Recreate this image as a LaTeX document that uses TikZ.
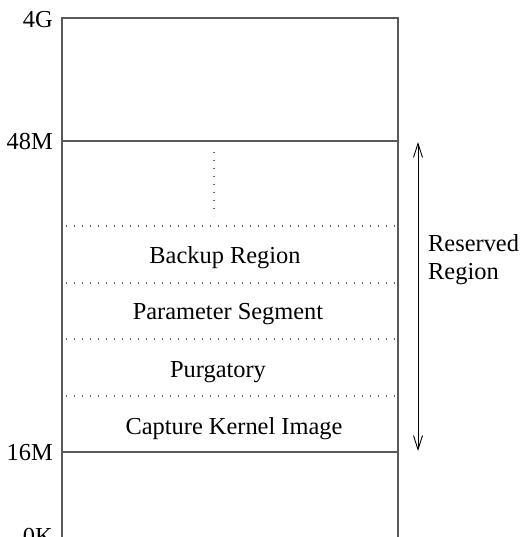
\documentclass[tikz,border=0pt]{standalone}
\usepackage{fontspec}
\setmainfont{Liberation Serif}
\usetikzlibrary{arrows.meta}
\begin{document}
\begin{tikzpicture}[x=1pt,y=-1pt,
  boxline/.style={draw=black!65,line width=1.1pt},
  dotline/.style={draw=black!60,line width=1.3pt,dash pattern=on 1.3pt off 6.7pt},
  lbl/.style={font=\fontsize{24.4}{28}\selectfont,inner sep=0pt},
  addr/.style={lbl,anchor=east},
  region/.style={lbl,anchor=center},
  span/.style={draw=black,line width=0.9pt,{Straight Barb[length=14pt,width=9pt]}-{Straight Barb[length=14pt,width=9pt]}}]
\useasboundingbox (0,0) rectangle (521,537);
% memory box
\draw[boxline] (62,560) -- (62,18) -- (398,18) -- (398,560);
\draw[boxline] (62,141) -- (398,141);
\draw[boxline] (62,452) -- (398,452);
% dotted separators
\foreach \yy in {226,283,339,396} \draw[dotline] (66,\yy) -- (396,\yy);
\draw[dotline] (214,152) -- (214,216);
% address labels
\node[addr] (a4g) at (53,20) {4G};
\node[addr] (a48) at (53,142) {48M};
\node[addr] (a16) at (53,453) {16M};
\node[addr] (a0) at (53,536) {0K};
% region labels
\node[region] (bak) at (225,258) {Backup Region};
\node[region] (par) at (228,314) {Parameter Segment};
\node[region] (pur) at (218,372) {Purgatory};
\node[region] (cap) at (234,429) {Capture Kernel Image};
% reserved arrow
\coordinate (rtop) at (418,142);
\coordinate (rbot) at (418,451);
\draw[span] (rtop) -- (rbot);
\node[lbl,anchor=west,align=left] (res) at (428,260) {Reserved\\[0pt]Region};
\end{tikzpicture}
\end{document}
